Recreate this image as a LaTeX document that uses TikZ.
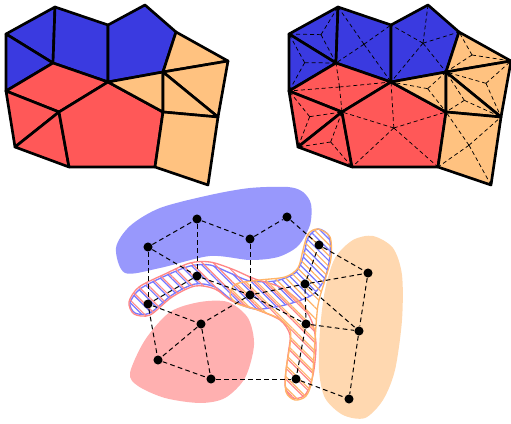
\documentclass[tikz,border=0pt]{standalone}
\usetikzlibrary{patterns.meta}

\definecolor{meshblue}{RGB}{58,58,224}
\definecolor{meshred}{RGB}{255,88,88}
\definecolor{meshorange}{RGB}{255,194,128}
\definecolor{blobblue}{RGB}{152,152,252}
\definecolor{blobred}{RGB}{255,176,176}
\definecolor{bloborange}{RGB}{255,216,176}
\definecolor{hatchblue}{RGB}{120,120,255}
\definecolor{hatchred}{RGB}{255,135,135}
\definecolor{hatchorange}{RGB}{255,180,105}

\tikzset{every picture/.style={line width=0.75pt}}
\tikzset{
  meshline/.style={draw=black,line width=2pt,line join=round},
  blueface/.style={meshline,fill=meshblue},
  redface/.style={meshline,fill=meshred},
  orangeface/.style={meshline,fill=meshorange},
  starline/.style={draw=black,line width=0.55pt,dash pattern=on 3pt off 2.2pt},
  gnode/.style={circle,fill=black,inner sep=0pt,minimum size=6.8pt},
  gedge/.style={draw=black,line width=0.75pt,dash pattern=on 3.5pt off 2.5pt},
  bluehatch/.style={draw=hatchblue,line width=1pt,pattern={Lines[angle=-45,distance=5.8pt,line width=0.9pt]},pattern color=hatchblue},
  redhatch/.style={draw=hatchred,line width=1pt,pattern={Lines[angle=-45,distance=5.8pt,line width=0.9pt,yshift=1.93pt]},pattern color=hatchred},
  orangehatch/.style={draw=hatchorange,line width=1pt,pattern={Lines[angle=-45,distance=5.8pt,line width=0.9pt,yshift=3.87pt]},pattern color=hatchorange}
}

% mesh corners
\newcommand{\meshpoints}{%
  \coordinate (A) at (6,34);
  \coordinate (B) at (55,7);
  \coordinate (C) at (108,25);
  \coordinate (D) at (145,5);
  \coordinate (E) at (176,32);
  \coordinate (F) at (228,61);
  \coordinate (G) at (218,117);
  \coordinate (H) at (208,185);
  \coordinate (I) at (155,167);
  \coordinate (J) at (69,167);
  \coordinate (K) at (15,147);
  \coordinate (L) at (6,91);
  \coordinate (M) at (53,63);
  \coordinate (N) at (108,82);
  \coordinate (O) at (163,72);
  \coordinate (P) at (163,112);
  \coordinate (Q) at (59,112);
}

% mesh faces
\newcommand{\meshfaces}{%
  \filldraw[blueface] (A) -- (B) -- (M) -- cycle;
  \filldraw[blueface] (A) -- (M) -- (L) -- cycle;
  \filldraw[blueface] (B) -- (C) -- (N) -- (M) -- cycle;
  \filldraw[blueface] (C) -- (D) -- (E) -- (O) -- (N) -- cycle;
  \filldraw[redface] (L) -- (M) -- (N) -- (Q) -- cycle;
  \filldraw[redface] (L) -- (Q) -- (K) -- cycle;
  \filldraw[redface] (K) -- (Q) -- (J) -- cycle;
  \filldraw[redface] (Q) -- (N) -- (P) -- (I) -- (J) -- cycle;
  \filldraw[orangeface] (E) -- (F) -- (O) -- cycle;
  \filldraw[orangeface] (N) -- (O) -- (P) -- cycle;
  \filldraw[orangeface] (O) -- (F) -- (G) -- cycle;
  \filldraw[orangeface] (O) -- (G) -- (P) -- cycle;
  \filldraw[orangeface] (P) -- (G) -- (H) -- (I) -- cycle;
}

% dual star of one face
\newcommand{\facestar}[2]{%
  \coordinate (fc) at (barycentric cs:#1);
  \foreach \v in {#2} \draw[starline] (fc) -- (\v);
}

\begin{document}
\begin{tikzpicture}[x=0.75pt,y=0.75pt,yscale=-1,xscale=1]
    \useasboundingbox (0,0) rectangle (511,424);

    %left mesh
    \begin{scope}
      \meshpoints
      \meshfaces
    \end{scope}

    %right mesh with dual stars
    \begin{scope}[shift={(283,0)}]
      \meshpoints
      \meshfaces
      \facestar{A=1,B=1,M=1}{A,B,M}
      \facestar{A=1,M=1,L=1}{A,M,L}
      \facestar{B=1,C=1,N=1,M=1}{B,C,N,M}
      \facestar{C=1,D=1,E=1,O=1,N=1}{C,D,E,O,N}
      \facestar{L=1,M=1,N=1,Q=1}{L,M,N,Q}
      \facestar{L=1,Q=1,K=1}{L,Q,K}
      \facestar{K=1,Q=1,J=1}{K,Q,J}
      \facestar{Q=1,N=1,P=1,I=1,J=1}{Q,N,P,I,J}
      \facestar{E=1,F=1,O=1}{E,F,O}
      \facestar{N=1,O=1,P=1}{N,O,P}
      \facestar{O=1,F=1,G=1}{O,F,G}
      \facestar{O=1,G=1,P=1}{O,G,P}
      \facestar{P=1,G=1,H=1,I=1}{P,G,H,I}
    \end{scope}

    %solid blobs
    \fill[blobblue] plot[smooth cycle] coordinates {(116,248) (125,273) (160,268) (210,256) (250,260) (278,257) (298,246) (310,225) (311,204) (303,192) (288,187) (250,188) (210,195) (160,208) (130,226)};
    \fill[blobred] plot[smooth cycle] coordinates {(130,373) (145,340) (170,312) (200,302) (228,302) (248,318) (254,345) (245,378) (225,398) (200,403) (165,398) (138,386)};
    \fill[bloborange] plot[smooth cycle] coordinates {(353,240) (373,236) (393,248) (402,275) (402,320) (395,370) (383,400) (365,418) (343,415) (325,398) (319,370) (320,330) (325,290) (335,258)};

    %hatched blobs
    \path[bluehatch] plot[smooth cycle] coordinates {(130,303) (140,289) (165,276) (190,266) (210,265) (230,273) (250,281) (275,281) (295,273) (303,258) (308,238) (318,229) (329,236) (330,255) (325,278) (312,295) (285,305) (255,309) (232,300) (215,287) (195,284) (172,295) (150,313) (135,313)};
    \path[redhatch] plot[smooth cycle] coordinates {(129,302) (139,287) (165,274) (190,263) (210,262) (232,269) (255,279) (280,287) (300,302) (312,322) (316,345) (313,375) (305,395) (292,398) (285,385) (288,355) (290,335) (280,320) (255,309) (232,301) (215,289) (195,286) (172,297) (150,315) (134,314)};
    \path[orangehatch] plot[smooth cycle] coordinates {(318,229) (330,237) (331,258) (325,280) (318,305) (315,340) (312,380) (306,396) (295,400) (286,392) (286,370) (290,345) (290,330) (280,319) (258,310) (238,304) (230,295) (236,284) (260,280) (285,277) (298,268) (303,250) (308,234)};

    %graph nodes
    \node[gnode] (v1) at (148,247) {};
    \node[gnode] (v2) at (197,219) {};
    \node[gnode] (v3) at (250,239) {};
    \node[gnode] (v4) at (287,217) {};
    \node[gnode] (v5) at (319,245) {};
    \node[gnode] (v6) at (197,276) {};
    \node[gnode] (v7) at (148,304) {};
    \node[gnode] (v8) at (250,295) {};
    \node[gnode] (v9) at (305,284) {};
    \node[gnode] (v10) at (368,273) {};
    \node[gnode] (v11) at (201,324) {};
    \node[gnode] (v12) at (306,324) {};
    \node[gnode] (v13) at (359,331) {};
    \node[gnode] (v14) at (158,360) {};
    \node[gnode] (v15) at (211,379) {};
    \node[gnode] (v16) at (296,379) {};
    \node[gnode] (v17) at (349,399) {};

    %graph edges
    \foreach \a/\b in {v1/v2,v2/v3,v3/v4,v4/v5,v5/v10,v1/v7,v1/v6,v2/v6,v3/v8,v6/v7,v6/v8,v7/v11,v7/v14,v8/v11,v8/v9,v8/v12,v9/v5,v9/v10,v9/v12,v9/v13,v12/v13,v10/v13,v12/v16,v11/v14,v11/v15,v14/v15,v15/v16,v16/v17,v13/v17}
      \draw[gedge] (\a) -- (\b);

\end{tikzpicture}
\end{document}
